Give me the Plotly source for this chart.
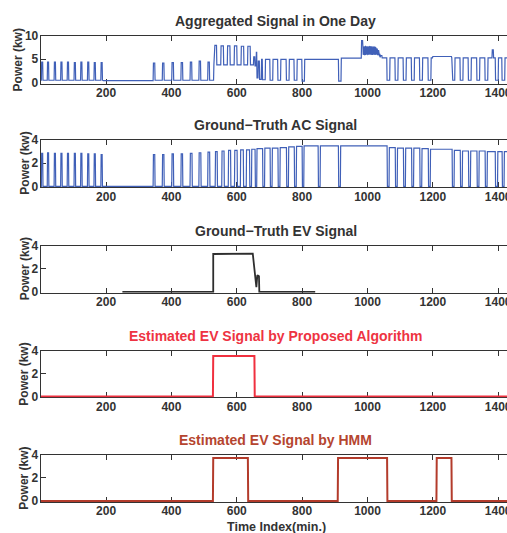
import numpy as np
import plotly.graph_objects as go

minutes = np.arange(1, 1441)

# ---------------- Aggregated household power (kW) ----------------
# background level per time span
agg_base_start = [1, 190, 345, 530, 652, 676, 912, 982, 1045, 1200, 1258]
agg_base_end = [190, 345, 530, 652, 676, 912, 982, 1045, 1200, 1258, 1441]
agg_base_kw = [0.5, 0.4, 0.5, 3.8, 4.3, 5.0, 5.25, 5.8, 5.3, 5.6, 5.3]

# spans where the aggregated power departs from the background
agg_span_start = [3, 21, 42, 62, 82, 103, 123, 144, 164, 185,
                  345, 373, 402, 430, 458, 485, 512,
                  531, 552, 572, 593, 614, 634,
                  652, 656, 660, 662, 666, 670,
                  679, 702, 726, 752, 776, 800, 912,
                  982,
                  1060, 1085, 1110, 1135, 1160, 1186,
                  1259, 1284, 1309, 1335, 1360, 1382, 1392, 1412, 1433]
agg_span_end = [7, 25, 46, 66, 86, 107, 127, 148, 168, 189,
                350, 378, 407, 435, 463, 490, 517,
                539, 560, 580, 601, 622, 642,
                656, 660, 662, 666, 670, 676,
                688, 711, 735, 761, 785, 808, 920,
                986,
                1069, 1094, 1119, 1144, 1169, 1195,
                1268, 1293, 1318, 1344, 1369, 1386, 1401, 1421, 1441]
agg_span_kw = [4.4, 4.4, 4.4, 4.4, 4.4, 4.3, 4.4, 4.4, 4.3, 4.3,
               4.2, 4.2, 4.3, 4.3, 4.4, 4.6, 4.4,
               8.0, 7.9, 7.9, 7.9, 7.8, 7.8,
               5.5, 3.6, 6.5, 1.0, 4.6, 0.7,
               0.6, 0.5, 0.5, 0.5, 0.5, 0.3, 0.3,
               9.0,
               0.5, 0.5, 0.5, 0.5, 0.5, 0.5,
               0.5, 0.5, 0.5, 0.5, 0.5, 7.0, 0.5, 0.5, 0.5]

# fast on/off burst after the evening peak, one value per minute from minute 986
agg_burst_start = 986
agg_burst_kw = [7.8, 6.0, 7.6, 6.2, 7.8, 5.9, 7.7, 6.1, 7.9, 6.0,
                7.6, 6.2, 7.8, 6.0, 7.7, 5.9, 7.8, 6.1, 7.6, 6.0,
                7.7, 6.2, 7.8, 6.0, 7.6, 6.1, 7.7, 5.9, 7.8, 6.0,
                7.6, 6.2, 7.7, 6.0, 7.8, 6.1, 7.6, 5.9, 7.7, 6.0,
                7.5, 6.1, 7.4, 6.0, 7.3, 5.9, 7.2, 6.0, 7.0, 5.8,
                6.8, 5.6, 6.2, 5.4]

# ---------------- Ground-truth air conditioner (kW) ----------------
ac_on_start = [3, 21, 42, 62, 82, 103, 123, 144, 164, 185,
               345, 373, 402, 430, 458, 485, 512, 535, 555, 575, 594, 612,
               630, 646, 662,
               686, 709, 733, 759, 783, 806, 856, 918,
               1067, 1092, 1117, 1142, 1167, 1193,
               1266, 1291, 1316, 1342, 1367, 1399, 1419]
ac_on_end = [7, 25, 46, 66, 86, 107, 127, 148, 168, 189,
             350, 378, 407, 435, 464, 491, 518, 541, 562, 582, 602, 621,
             640, 657, 680,
             703, 727, 753, 777, 801, 850, 912, 1061,
             1086, 1111, 1136, 1161, 1187, 1260,
             1285, 1310, 1336, 1361, 1392, 1413, 1434]
ac_on_kw = [2.85, 2.9, 2.85, 2.85, 2.85, 2.85, 2.85, 2.8, 2.8, 2.75,
            2.75, 2.75, 2.8, 2.8, 2.85, 2.9, 2.95, 3.0, 3.05, 3.1, 3.1, 3.15,
            3.15, 3.2, 3.25,
            3.3, 3.3, 3.35, 3.4, 3.45, 3.5, 3.5, 3.5,
            3.35, 3.3, 3.3, 3.3, 3.25, 3.2,
            3.1, 3.05, 3.05, 3.05, 3.0, 3.0, 3.0]

# ---------------- Ground-truth EV charging (kW) ----------------
ev_time = [250, 528, 528, 649, 660, 661, 663, 668, 669, 840]
ev_kw = [0, 0, 3.3, 3.33, 0.4, 1.4, 1.45, 1.35, 0, 0]

# ---------------- Estimated EV charging (kW) ----------------
prop_on_start = [528]
prop_on_end = [655]
prop_on_kw = [3.55]

hmm_on_start = [528, 910, 1212]
hmm_on_end = [635, 1061, 1258]
hmm_on_kw = [3.7, 3.7, 3.7]


def per_minute(base_start, base_end, base_kw, on_start, on_end, on_kw):
    kw = np.zeros(minutes.size)
    for s, e, v in zip(base_start, base_end, base_kw):
        kw[(minutes >= s) & (minutes < e)] = v
    for s, e, v in zip(on_start, on_end, on_kw):
        kw[(minutes >= s) & (minutes < e)] = v
    return kw


agg = per_minute(agg_base_start, agg_base_end, agg_base_kw,
                 agg_span_start, agg_span_end, agg_span_kw)
burst_idx = agg_burst_start - 1
agg[burst_idx:burst_idx + len(agg_burst_kw)] = agg_burst_kw

ac = per_minute([1], [1441], [0.0], ac_on_start, ac_on_end, ac_on_kw)
prop = per_minute([1], [1441], [0.0], prop_on_start, prop_on_end, prop_on_kw)
hmm = per_minute([1], [1441], [0.0], hmm_on_start, hmm_on_end, hmm_on_kw)

BLUE = "#4060B8"
DARK = "#2E2E2E"
RED = "#F0303F"
BROWN = "#B33B2B"
TXT = "#333333"
FONT = "Liberation Sans, Arial, sans-serif"

panels = [
    dict(title="Aggregated Signal in One Day", tcolor=TXT, x=minutes, y=agg,
         color=BLUE, width=1.2, ymax=10, ticks=[0, 5, 10], ylab_x=17.7),
    dict(title="Ground\u2212Truth AC Signal", tcolor=TXT, x=minutes, y=ac,
         color=BLUE, width=1.2, ymax=4, ticks=[0, 2, 4], ylab_x=25),
    dict(title="Ground\u2212Truth EV Signal", tcolor=TXT, x=ev_time, y=ev_kw,
         color=DARK, width=1.8, ymax=4, ticks=[0, 2, 4], ylab_x=25),
    dict(title="Estimated EV Signal by Proposed Algorithm", tcolor="#EE3342",
         x=minutes, y=prop, color=RED, width=2.0, ymax=4, ticks=[0, 2, 4],
         ylab_x=24.5),
    dict(title="Estimated EV Signal by HMM", tcolor="#B5452F",
         x=minutes, y=hmm, color=BROWN, width=2.0, ymax=4, ticks=[0, 2, 4],
         ylab_x=24.5),
]

W, H = 507, 533
tops = [36, 140, 246, 351, 454.5]
bots = [83.5, 187.3, 292.7, 397.3, 502]
x_left = 40.7 / W
x_mid = (40.7 + 511) / 2 / W

fig = go.Figure()
annotations = []
for i, p in enumerate(panels, start=1):
    sfx = "" if i == 1 else str(i)
    fig.add_trace(go.Scatter(x=p["x"], y=p["y"], mode="lines",
                             line=dict(color=p["color"], width=p["width"]),
                             xaxis="x" + sfx, yaxis="y" + sfx,
                             showlegend=False, hoverinfo="skip"))
    ydom = [1 - bots[i - 1] / H, 1 - tops[i - 1] / H]
    pad = p["ymax"] * 0.02
    fig.layout["xaxis" + sfx] = dict(
        domain=[x_left, 1], range=[0, 1427], anchor="y" + sfx,
        automargin=False,
        tickvals=[200, 400, 600, 800, 1000, 1200, 1400],
        ticks="inside", ticklen=5, tickcolor=TXT, tickwidth=1,
        showline=True, mirror="ticks", linecolor=TXT, linewidth=1,
        showgrid=False, zeroline=False, layer="below traces",
        ticklabeloverflow="allow", ticklabelstandoff=-2,
        tickfont=dict(family=FONT, size=12, color=TXT, weight="bold"),
    )
    fig.layout["yaxis" + sfx] = dict(
        domain=ydom, range=[-pad, p["ymax"]], anchor="x" + sfx,
        automargin=False,
        tickvals=p["ticks"], ticks="inside", ticklen=5, tickcolor=TXT,
        showline=True, mirror=False, linecolor=TXT, linewidth=1,
        showgrid=False, zeroline=False, layer="below traces",
        ticklabelstandoff=-1,
        tickfont=dict(family=FONT, size=12, color=TXT, weight="bold"),
    )
    # panel title
    annotations.append(dict(
        text=p["title"], xref="paper", yref="paper",
        x=x_mid, y=ydom[1], xanchor="center", yanchor="bottom",
        yshift=5, showarrow=False,
        font=dict(family=FONT, size=14, color=p["tcolor"], weight="bold"),
    ))
    # y-axis label
    annotations.append(dict(
        text="Power (kw)", xref="paper", yref="paper", textangle=-90,
        x=p["ylab_x"] / W, y=(ydom[0] + ydom[1]) / 2,
        xanchor="center", yanchor="middle", showarrow=False,
        font=dict(family=FONT, size=12, color=TXT, weight="bold"),
    ))

# shared time-axis label under the bottom panel
annotations.append(dict(
    text="Time Index(min.)", xref="paper", yref="paper",
    x=276 / W, y=1 - 526.5 / H, xanchor="center", yanchor="middle",
    showarrow=False,
    font=dict(family=FONT, size=12.5, color=TXT, weight="bold"),
))

fig.update_layout(
    width=W, height=H, autosize=False,
    margin=dict(l=0, r=0, t=0, b=0, autoexpand=False),
    paper_bgcolor="white", plot_bgcolor="white",
    annotations=annotations,
)

fig.write_html("out.html")
